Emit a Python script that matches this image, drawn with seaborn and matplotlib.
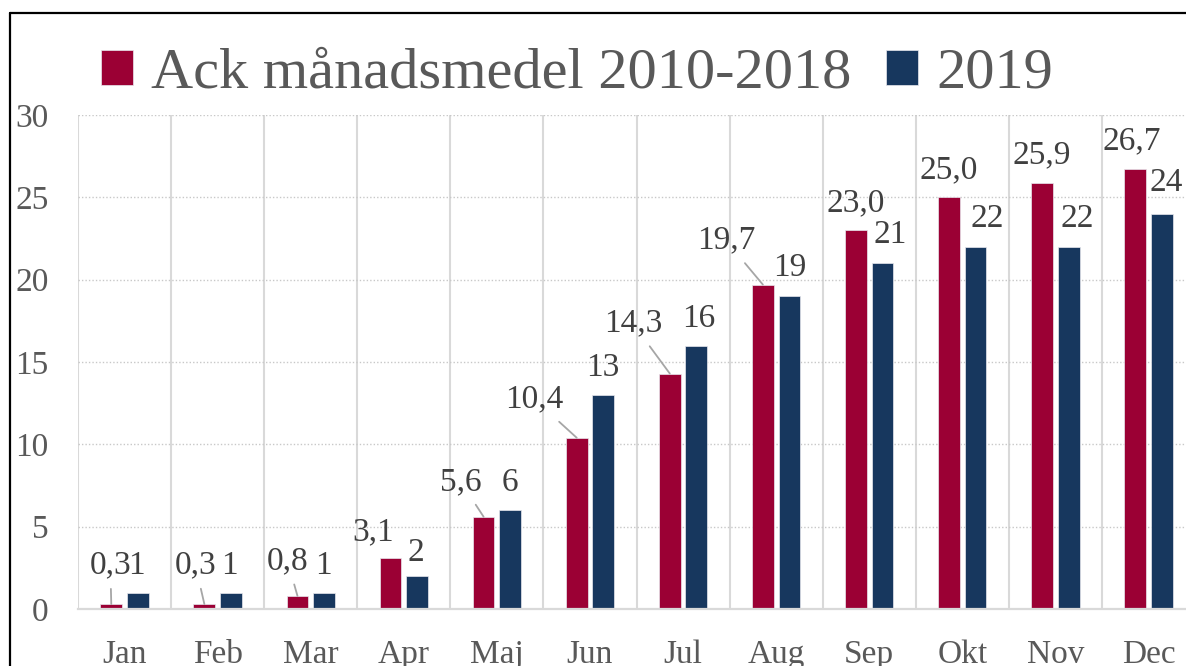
import pandas as pd
import seaborn as sns
import matplotlib.pyplot as plt
from matplotlib.lines import Line2D

# Data
months = ["Jan", "Feb", "Mar", "Apr", "Maj", "Jun", "Jul", "Aug", "Sep", "Okt", "Nov", "Dec"]
avg_2010_2018 = [0.3, 0.3, 0.8, 3.1, 5.6, 10.4, 14.3, 19.7, 23.0, 25.0, 25.9, 26.7]
val_2019 = [1, 1, 1, 2, 6, 13, 16, 19, 21, 22, 22, 24]
series_names = ["Ack månadsmedel 2010-2018", "2019"]

# label offsets from the bar top (pixels, dx / dy up to text centre)
red_offsets = [(-1, 42), (-9, 42), (-10, 38), (-17, 29), (-23, 38), (-42, 41),
               (-37, 53), (-37, 47), (0, 30), (0, 30), (0, 30), (-3, 31)]
blue_offsets = [(-1, 30), (-1, 30), (-1, 30), (-1, 26), (0, 30), (0, 30),
                (2, 30), (0, 31), (8, 31), (12, 31), (9, 31), (4, 34)]
leader = [True, True, True, False, True, True, True, True, False, False, False, False]

red = "#9b0034"
blue = "#17375e"
grid_col = "#d9d9d9"

df = pd.DataFrame({
    "month": months * 2,
    "value": avg_2010_2018 + val_2019,
    "serie": [series_names[0]] * len(months) + [series_names[1]] * len(months),
})

sns.set_theme(style="white")
plt.rcParams['font.family'] = ['Liberation Serif', 'DejaVu Serif']

W, H = 1186, 666
fig = plt.figure(figsize=(W / 100, H / 100), dpi=100)
ax = fig.add_axes([78 / W, 1 - 609 / H, (1195 - 78) / W, 494 / H])

sns.barplot(data=df, x="month", y="value", hue="serie", palette=[red, blue],
            saturation=1, width=0.57, gap=0.18, ax=ax,
            edgecolor="#e8e8ee", linewidth=0.5)

ax.set_xlim(-0.5, len(months) - 0.5)
ax.set_ylim(0, 30)
ax.set_yticks(range(0, 31, 5))
ax.set_xlabel("")
ax.set_ylabel("")
for s in ["top", "right", "left"]:
    ax.spines[s].set_visible(False)
ax.spines["bottom"].set_color(grid_col)
ax.spines["bottom"].set_linewidth(1.6)
ax.set_axisbelow(True)
ax.yaxis.grid(True, linestyle=(0, (1, 1.5)), color="#c8c8c8", linewidth=1)
ax.vlines([k - 0.5 for k in range(len(months) + 1)], 0, 30, color=grid_col,
          linewidth=1.5, zorder=0)
ax.tick_params(axis="y", length=0, pad=21, labelsize=24, labelcolor="#595959")
ax.tick_params(axis="x", length=0, pad=22, labelsize=24, labelcolor="#595959")

# data labels
text_col = "#404040"
fs = 24
shift = 11  # centre -> baseline
for cont, vals, offs, fmt in [(ax.containers[0], avg_2010_2018, red_offsets, "red"),
                              (ax.containers[1], val_2019, blue_offsets, "blue")]:
    for i, (p, v) in enumerate(zip(cont.patches, vals)):
        xc = p.get_x() + p.get_width() / 2
        yt = p.get_height()
        label = f"{v:.1f}".replace(".", ",") if fmt == "red" else f"{v:.0f}"
        dx, dy = offs[i]
        kw = {}
        if fmt == "red" and leader[i]:
            kw["arrowprops"] = dict(arrowstyle="-", color="#a6a6a6", lw=1.3,
                                    shrinkA=4, shrinkB=0)
        ax.annotate(label, xy=(xc, yt), xytext=(dx, dy - shift),
                    textcoords="offset pixels", ha="center", va="baseline",
                    fontsize=fs, color=text_col, annotation_clip=False, **kw)

# legend on top
handles, labels = ax.get_legend_handles_labels()
ax.get_legend().remove()
fig.legend(handles, labels, loc="center", bbox_to_anchor=(577 / W, 1 - 74 / H),
           ncol=2, frameon=False, fontsize=42, labelcolor="#595959",
           handlelength=0.55, handleheight=0.55, handletextpad=0.3,
           columnspacing=0.6, borderpad=0)

# chart area border (top and left edges visible)
fig.add_artist(Line2D([10 / W, 1], [1 - 13 / H, 1 - 13 / H], color="black",
                      lw=1.6, transform=fig.transFigure))
fig.add_artist(Line2D([10 / W, 10 / W], [0, 1 - 13 / H], color="black",
                      lw=1.6, transform=fig.transFigure))

fig.savefig("out.png", dpi=100)
